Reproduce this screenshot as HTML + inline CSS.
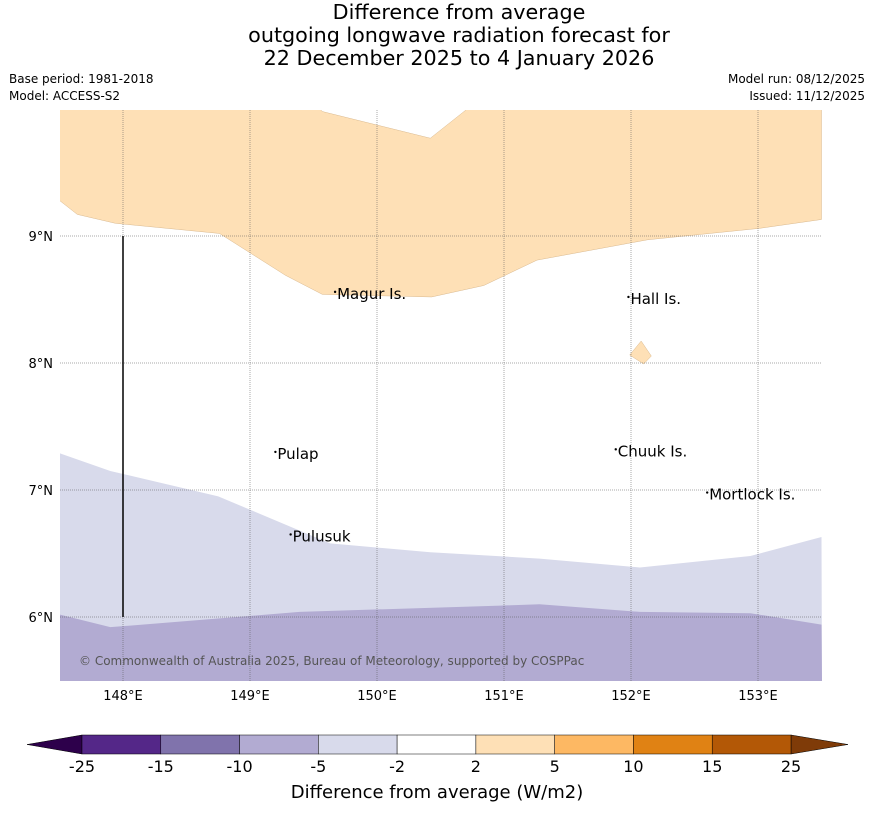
<!DOCTYPE html>
<html><head><meta charset="utf-8">
<style>
body{margin:0;background:#fff;font-family:"Liberation Sans","DejaVu Sans",sans-serif;}
svg{display:block}
</style></head>
<body>
<svg width="873" height="816" xmlns="http://www.w3.org/2000/svg" id="chart">
<text x="459" y="19" font-size="20.7" text-anchor="middle" font-family="DejaVu Sans,sans-serif">Difference from average</text>
<text x="459" y="42" font-size="20.7" text-anchor="middle" font-family="DejaVu Sans,sans-serif">outgoing longwave radiation forecast for</text>
<text x="459" y="65" font-size="20.7" text-anchor="middle" font-family="DejaVu Sans,sans-serif">22 December 2025 to 4 January 2026</text>
<text x="9" y="83" font-size="12" font-family="DejaVu Sans,sans-serif">Base period: 1981-2018</text>
<text x="9" y="100" font-size="12" font-family="DejaVu Sans,sans-serif">Model: ACCESS-S2</text>
<text x="865" y="83" font-size="12" text-anchor="end" font-family="DejaVu Sans,sans-serif">Model run: 08/12/2025</text>
<text x="865" y="100" font-size="12" text-anchor="end" font-family="DejaVu Sans,sans-serif">Issued: 11/12/2025</text>
<g id="map"></g>
<g id="cbar"></g>
<text x="437" y="798" font-size="18" text-anchor="middle" font-family="DejaVu Sans,sans-serif">Difference from average (W/m2)</text>
</svg>
<script>
const lonTicks=[148,149,150,151,152,153];
const latTicks=[6,7,8,9];
const orangeLon=[147.5,147.64,147.94,148.76,149.28,149.57,150.43,150.84,151.26,152.13,153.01,153.5,153.5,150.71,150.42,149.57,149.55,147.5];
const orangeLat=[9.28,9.17,9.10,9.02,8.69,8.54,8.52,8.61,8.81,8.97,9.06,9.13,10,10,9.77,9.98,10,10];
const islandLon=[151.99,152.08,152.16,152.10];
const islandLat=[8.063,8.173,8.055,7.992];
const lavLon=[147.5,147.9,148.75,149.63,150.42,151.28,152.07,152.94,153.5];
const lavLat=[7.29,7.15,6.95,6.58,6.51,6.46,6.39,6.48,6.63];
const purLon=[147.5,147.9,149.39,150.97,151.28,152.07,152.94,153.5];
const purLat=[6.02,5.92,6.04,6.09,6.10,6.04,6.03,5.94];
const places=["Magur Is.","Hall Is.","Pulap","Chuuk Is.","Mortlock Is.","Pulusuk"];
const placeLon=[149.67,151.98,149.2,151.88,152.6,149.32];
const placeLat=[8.56,8.52,7.3,7.32,6.98,6.65];
const cbLevels=["-25","-15","-10","-5","-2","2","5","10","15","25"];
const cbColors=["#542788","#8073ac","#b2abd2","#d8daeb","#ffffff","#fee0b6","#fdb863","#e08214","#b35806"];
const NS="http://www.w3.org/2000/svg";
const X0=59.5,Y0=236,S=127;
const xs=l=>X0+(l-147.5)*S, ys=l=>Y0+(9-l)*S;
const L=60,R=822,T=110,B=681;
function mk(t,a,p){const e=document.createElementNS(NS,t);for(const k in a)e.setAttribute(k,a[k]);p.appendChild(e);return e;}
const map=document.getElementById('map');
const clip=mk('clipPath',{id:'mc'},map);mk('rect',{x:L,y:T,width:R-L,height:B-T},clip);
const g=mk('g',{'clip-path':'url(#mc)'},map);
function poly(lons,lats){return lons.map((l,i)=>xs(l)+','+ys(lats[i])).join(' ');}
let e;
e=mk('polygon',{points:poly(lavLon,lavLat)+` ${R},${B} ${L},${B}`,fill:'#d8daeb'},g);


e=mk('polygon',{points:poly(purLon,purLat)+` ${R},${B} ${L},${B}`,fill:'#b2abd2'},g);


e=mk('polygon',{points:poly(orangeLon,orangeLat),fill:'#fee0b6',stroke:'#d9b98f','stroke-width':0.5},g);


e=mk('polygon',{points:poly(islandLon,islandLat),fill:'#fee0b6',stroke:'#d9b98f','stroke-width':0.5},g);


lonTicks.forEach(l=>{const x=xs(l);
 e=mk('line',{x1:x,x2:x,y1:T,y2:B,stroke:'#555','stroke-width':0.5,'stroke-dasharray':'1,1'},g);
 
 
 e=mk('text',{x:x,y:700,'font-size':13,'text-anchor':'middle','font-family':'DejaVu Sans,sans-serif'},map);e.textContent=l+'°E';
 
 
});
latTicks.forEach(l=>{const y=ys(l);
 e=mk('line',{x1:L,x2:R,y1:y,y2:y,stroke:'#555','stroke-width':0.5,'stroke-dasharray':'1,1'},g);
 
 
 e=mk('text',{x:53,y:y+5,'font-size':13,'text-anchor':'end','font-family':'DejaVu Sans,sans-serif'},map);e.textContent=l+'°N';
 
 
});
e=mk('line',{x1:xs(148),x2:xs(148),y1:ys(9),y2:ys(6),stroke:'#000','stroke-width':1.5},g);


places.forEach((p,i)=>{const x=xs(placeLon[i]),y=ys(placeLat[i]);
 e=mk('text',{x:x+2,y:y+7,'font-size':15,'font-family':'DejaVu Sans,sans-serif'},g);e.textContent=p;
 
 
 e=mk('circle',{cx:x,cy:y,r:1.2,fill:'#000'},g);
 
 
});
e=mk('text',{x:79,y:665,'font-size':12,fill:'#555','font-family':'DejaVu Sans,sans-serif'},g);e.textContent='© Commonwealth of Australia 2025, Bureau of Meteorology, supported by COSPPac';


const cb=document.getElementById('cbar');
const cx0=82,cx1=791,cy0=735,cy1=754,sw=(cx1-cx0)/cbColors.length;
e=mk('polygon',{points:`${cx0},${cy0} 27,${(cy0+cy1)/2} ${cx0},${cy1}`,fill:'#2d004b',stroke:'#000','stroke-width':0.5},cb);


e=mk('polygon',{points:`${cx1},${cy0} 848,${(cy0+cy1)/2} ${cx1},${cy1}`,fill:'#7f3b08',stroke:'#000','stroke-width':0.5},cb);


cbColors.forEach((c,i)=>{
 e=mk('rect',{x:cx0+i*sw,y:cy0,width:sw,height:cy1-cy0,fill:c,stroke:'#000','stroke-width':0.5},cb);
 
 
});
cbLevels.forEach((t,i)=>{
 e=mk('text',{x:cx0+i*sw,y:772,'font-size':16,'text-anchor':'middle','font-family':'DejaVu Sans,sans-serif'},cb);e.textContent=t;
 
 
});
</script>
</body></html>
